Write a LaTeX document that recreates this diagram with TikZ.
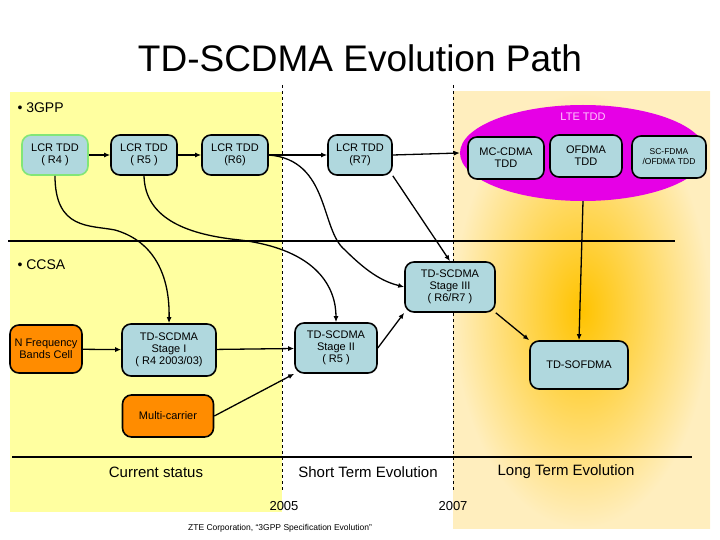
\documentclass[tikz,border=0pt]{standalone}
\usepackage{fontspec}
\setmainfont{Liberation Sans}
\usetikzlibrary{arrows.meta,shapes.geometric}
\definecolor{boxc}{RGB}{176,216,222}
\definecolor{orc}{RGB}{255,140,0}
\definecolor{yel}{RGB}{255,255,160}
\begin{document}
\begin{tikzpicture}[x=1pt,y=-1pt,
 bx/.style={draw=black,line width=1.6pt,rounded corners=9pt,fill=boxc,align=center,font=\fontsize{11}{12}\selectfont,inner sep=1pt},
 ob/.style={bx,fill=orc},
 ar/.style={-{Latex[length=6pt,width=5pt]},line width=1.3pt},
 dl/.style={dashed,line width=0.6pt},
 lbl/.style={font=\fontsize{15}{16}\selectfont}]
\useasboundingbox (0,0) rectangle (720,540);
\fill[yel] (10,92) rectangle (282,512);
\shade[inner color={rgb,255:red,255;green,195;blue,0},outer color={rgb,255:red,255;green,238;blue,190}] (453,92) rectangle (710,528);
\draw[dl] (282,85) -- (282,490);
\draw[dl] (453,85) -- (453,490);
\draw[line width=1.3pt] (8,241) -- (675,241);
\draw[line width=1.6pt] (12,457) -- (692,457);
\node[font=\fontsize{37}{40}\selectfont] (title) at (360,58) {TD-SCDMA Evolution Path};
\node[anchor=west,font=\fontsize{14}{15}\selectfont] (g3) at (14,108) {• 3GPP};
\node[anchor=west,font=\fontsize{14}{15}\selectfont] (cc) at (14,265) {• CCSA};
\node[ellipse,fill={rgb,255:red,230;green,0;blue,230},minimum width=246pt,minimum height=96pt,inner sep=0pt] (ell) at (583,153) {};
\node[text={rgb,255:red,255;green,200;blue,255},font=\fontsize{11}{12}\selectfont] (lte) at (583,117) {LTE TDD};
\node[bx,draw={rgb,255:red,130;green,230;blue,120},minimum width=66pt,minimum height=40pt] (r4) at (55,155) {LCR TDD\\( R4 )};
\node[bx,minimum width=66pt,minimum height=40pt] (r5) at (144,155) {LCR TDD\\( R5 )};
\node[bx,minimum width=66pt,minimum height=40pt] (r6) at (235,155) {LCR TDD\\(R6)};
\node[bx,minimum width=64pt,minimum height=40pt] (r7) at (360,155) {LCR TDD\\(R7)};
\node[bx,minimum width=76pt,minimum height=42pt] (mc) at (506,158) {MC-CDMA\\TDD};
\node[bx,minimum width=72pt,minimum height=42pt] (of) at (586,156) {OFDMA\\TDD};
\node[bx,minimum width=74pt,minimum height=42pt,font=\fontsize{8.5}{10}\selectfont] (sc) at (669,157) {SC-FDMA\\/OFDMA TDD};
\node[bx,minimum width=90pt,minimum height=50pt] (s3) at (450,287) {TD-SCDMA\\Stage III\\( R6/R7 )};
\node[bx,minimum width=94pt,minimum height=52pt] (s1) at (169,350) {TD-SCDMA\\Stage I\\( R4 2003/03)};
\node[bx,minimum width=82pt,minimum height=50pt] (s2) at (336,348) {TD-SCDMA\\Stage II\\( R5 )};
\node[bx,minimum width=98pt,minimum height=48pt] (so) at (579,365) {TD-SOFDMA};
\node[ob,minimum width=72pt,minimum height=48pt] (nf) at (46,349) {N Frequency\\Bands Cell};
\node[ob,minimum width=91pt,minimum height=42pt] (mcar) at (168,416) {Multi-carrier};
\node[lbl] (t1) at (156,472) {Current status};
\node[lbl] (t2) at (368,472) {Short Term Evolution};
\node[lbl] (t3) at (566,472) {Long Term Evolution};
\node[font=\fontsize{13}{14}\selectfont] (y1) at (284,506) {2005};
\node[font=\fontsize{13}{14}\selectfont] (y2) at (453,506) {2007};
\node[font=\fontsize{8.5}{10}\selectfont] (cr) at (280,528) {ZTE Corporation, “3GPP Specification Evolution”};
\draw[ar] (r4) -- (r5);
\draw[ar] (r5) -- (r6);
\draw[ar] (r6) -- (r7);
\draw[ar] (r7.east) -- (ell.west);
\draw[ar] (r6.east) .. controls (330,160) and (320,230) .. (345,250) .. controls (370,275) and (385,282) .. (s3.west);
\draw[ar] (r4.south) .. controls (55,230) and (90,225) .. (115,230) .. controls (150,240) and (170,270) .. (s1.north);
\draw[ar] (r5.south) .. controls (145,220) and (190,235) .. (240,240) .. controls (320,250) and (336,290) .. (s2.north);
\draw[ar] (r7.south east) -- (s3.north);
\draw[ar] (s3.south east) -- (so.north west);
\draw[ar] (ell.south) -- (so.north);
\draw[ar] (nf) -- (s1);
\draw[ar] (s1) -- (s2);
\draw[ar] (mcar.east) -- (s2.south west);
\draw[ar] (s2.east) -- (s3.south west);
\end{tikzpicture}
\end{document}
